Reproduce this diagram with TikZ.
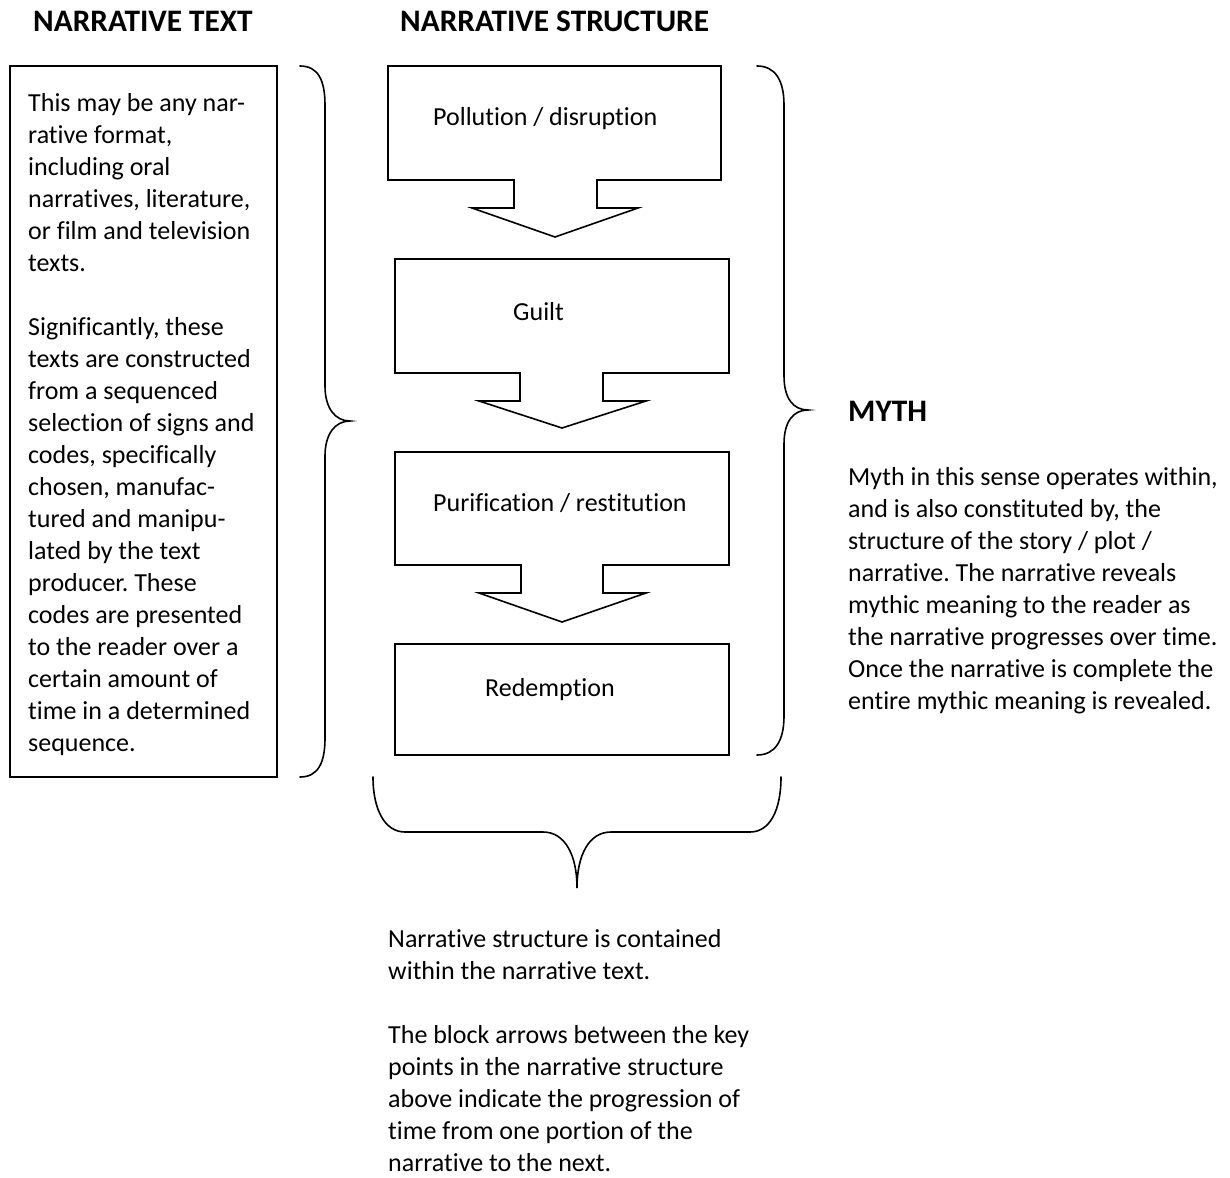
\documentclass[tikz,border=0pt]{standalone}
\usepackage{fontspec}
\setmainfont[Ligatures=NoCommon]{Carlito}
\frenchspacing
\begin{document}
\begin{tikzpicture}[x=1pt,y=-1pt,
  body/.style={font=\fontsize{26}{32}\selectfont\frenchspacing, inner sep=0pt, anchor=base west, align=left},
  head/.style={font=\fontsize{31.3}{36}\selectfont\bfseries, inner sep=0pt, anchor=base west},
  outline/.style={draw=black, line width=1.6pt, line join=miter},
  brace/.style={draw=black, line width=1.6pt, line cap=round}]
\fill[white] (0,0) rectangle (1230,1177);
\useasboundingbox (0,0) rectangle (1230,1177);

% headings
\node[head] (h1) at (33,32) {NARRATIVE TEXT};
\node[head] (h2) at (400,32) {NARRATIVE STRUCTURE};
\node[head] (h3) at (848,421) {MYTH};

% left box (text anchored at the baseline of its last line)
\draw[outline] (10,66) rectangle (277,777);
\node[body] (lt) at (28,751) {This may be any nar-\\rative format,\\including oral\\narratives, literature,\\or film and television\\texts.\\[32pt]Significantly, these\\texts are constructed\\from a sequenced\\selection of signs and\\codes, specifically\\chosen, manufac-\\tured and manipu-\\lated by the text\\producer. These\\codes are presented\\to the reader over a\\certain amount of\\time in a determined\\sequence.};

% left brace
\draw[brace] (300,66) .. controls (318,66) and (325,80) .. (325,105) -- (325,386)
  .. controls (325,408) and (335,421) .. (350,421)
  .. controls (335,421) and (325,434) .. (325,456) -- (325,738)
  .. controls (325,763) and (318,777) .. (300,777);

% block arrow callouts
\draw[outline] (388,66) -- (721,66) -- (721,180) -- (597,180) -- (597,208) -- (638,208)
  -- (555,237) -- (472,208) -- (514,208) -- (514,180) -- (388,180) -- cycle;
\node[body] (b1) at (433,126) {Pollution / disruption};

\draw[outline] (395,259) -- (729,259) -- (729,373) -- (603,373) -- (603,401) -- (646,401)
  -- (562,428) -- (479,401) -- (520,401) -- (520,373) -- (395,373) -- cycle;
\node[body] (b2) at (513,320) {Guilt};

\draw[outline] (395,452) -- (729,452) -- (729,565) -- (603,565) -- (603,593) -- (646,593)
  -- (562,622) -- (479,593) -- (521,593) -- (521,565) -- (395,565) -- cycle;
\node[body] (b3) at (433,511) {Purification / restitution};

\draw[outline] (395,644) rectangle (729,755);
\node[body] (b4) at (485,696) {Redemption};

% right brace
\draw[brace] (757,66) .. controls (775,66) and (784,80) .. (784,105) -- (784,376)
  .. controls (784,398) and (793,410) .. (808,410)
  .. controls (793,410) and (784,422) .. (784,444) -- (784,716)
  .. controls (784,741) and (775,755) .. (757,755);

% bottom brace
\draw[brace] (373,777) .. controls (373,810) and (385,832) .. (405,832) -- (543,832)
  .. controls (565,832) and (577,855) .. (577,888)
  .. controls (577,855) and (589,832) .. (611,832) -- (750,832)
  .. controls (770,832) and (781,810) .. (781,777);

% myth text
\node[body] (mt) at (848,709) {Myth in this sense operates within,\\and is also constituted by, the\\structure of the story / plot /\\narrative. The narrative reveals\\mythic meaning to the reader as\\the narrative progresses over time.\\Once the narrative is complete the\\entire mythic meaning is revealed.};

% bottom text
\node[body] (bt) at (388,1171) {Narrative structure is contained\\within the narrative text.\\[32pt]The block arrows between the key\\points in the narrative structure\\above indicate the progression of\\time from one portion of the\\narrative to the next.};
\end{tikzpicture}
\end{document}
